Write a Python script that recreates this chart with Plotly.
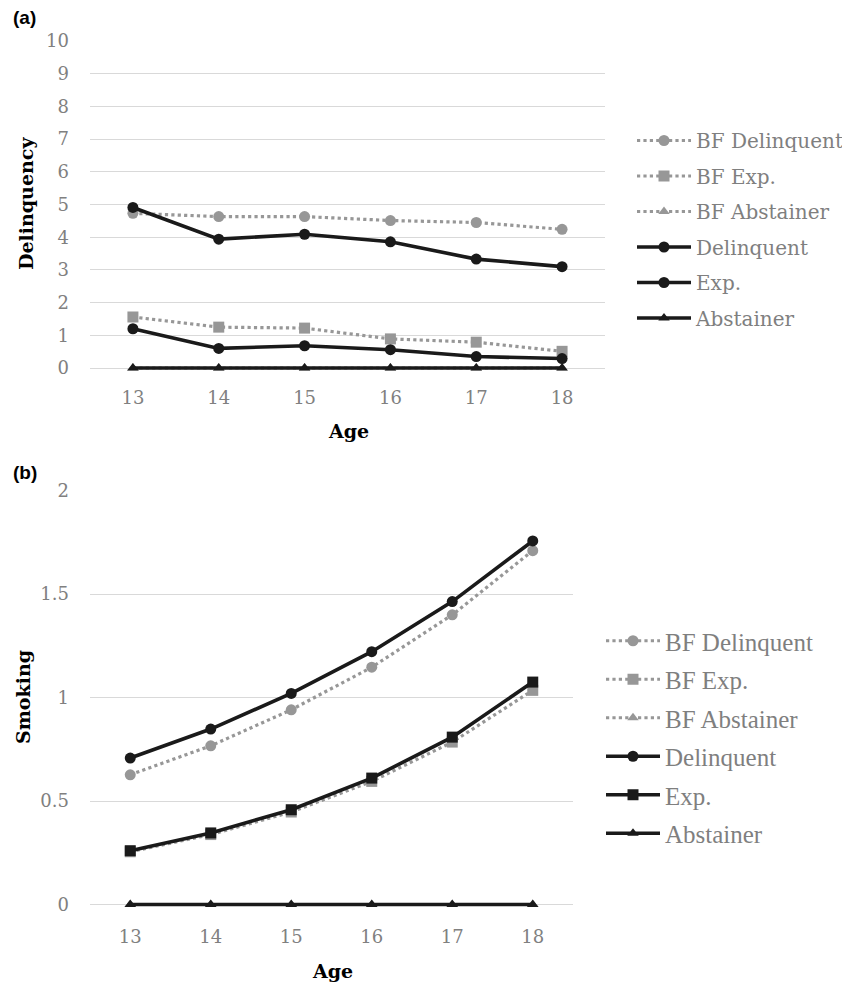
import plotly.graph_objects as go

ages = ["13", "14", "15", "16", "17", "18"]
series_names = ["BF Delinquent", "BF Exp.", "BF Abstainer", "Delinquent", "Exp.", "Abstainer"]

# Panel (a): Delinquency
a_bf_delinquent = [4.73, 4.63, 4.63, 4.51, 4.45, 4.24]
a_bf_exp = [1.56, 1.25, 1.22, 0.89, 0.79, 0.51]
a_bf_abstainer = [0, 0, 0, 0, 0, 0]
a_delinquent = [4.91, 3.94, 4.09, 3.86, 3.33, 3.10]
a_exp = [1.20, 0.60, 0.68, 0.56, 0.35, 0.29]
a_abstainer = [0, 0, 0, 0, 0, 0]

# Panel (b): Smoking
b_bf_delinquent = [0.627, 0.767, 0.941, 1.147, 1.40, 1.71]
b_bf_exp = [0.255, 0.338, 0.447, 0.595, 0.785, 1.035]
b_bf_abstainer = [0, 0, 0, 0, 0, 0]
b_delinquent = [0.708, 0.848, 1.02, 1.222, 1.464, 1.757]
b_exp = [0.26, 0.346, 0.458, 0.611, 0.809, 1.075]
b_abstainer = [0, 0, 0, 0, 0, 0]

a_ticks = [0, 1, 2, 3, 4, 5, 6, 7, 8, 9, 10]
b_ticks = [0, 0.5, 1, 1.5, 2]
b_ticktext = ["0", "0.5", "1", "1.5", "2"]

GRAY = "#979797"
BLACK = "#1a1a1a"
W, H = 850, 983
OX, OY = 8, 8  # page offset


def px(X):
    return (X - OX) / W


def py(Y):
    return 1 - (Y - OY) / H


fig = go.Figure()


def add_panel(vals, symbols, xa, ya, legend):
    for i, (name, v) in enumerate(zip(series_names, vals)):
        bf = i < 3
        color = GRAY if bf else BLACK
        sym = symbols[i]
        size = 11 if sym != "triangle-up" else 10
        fig.add_trace(go.Scatter(
            x=ages, y=v, name=name, mode="lines+markers",
            line=dict(color=color, dash="dot" if bf else "solid", width=3.2 if bf else 3.6),
            marker=dict(symbol=sym, size=size, color=color),
            xaxis=xa, yaxis=ya, legend=legend, legendgroup=legend + name,
            cliponaxis=False,
        ))


add_panel([a_bf_delinquent, a_bf_exp, a_bf_abstainer, a_delinquent, a_exp, a_abstainer],
          ["circle", "square", "triangle-up", "circle", "circle", "triangle-up"], "x", "y", "legend")
add_panel([b_bf_delinquent, b_bf_exp, b_bf_abstainer, b_delinquent, b_exp, b_abstainer],
          ["circle", "square", "triangle-up", "circle", "square", "triangle-up"], "x2", "y2", "legend2")

tickfont = dict(family="DejaVu Serif", size=18, color="#808080")
xcommon = dict(type="category", categoryorder="array", categoryarray=ages, range=[-0.5, 5.5],
               showgrid=False, showline=False, zeroline=False, ticks="", tickfont=tickfont)
ycommon = dict(showgrid=True, gridcolor="#d9d9d9", gridwidth=1, zeroline=False, showline=False,
               ticks="", tickfont=tickfont, ticklabelstandoff=20)

# small headroom below zero so the thick zero line is not clipped in half
a_pad = 2.5 / 32.7
b_pad = 2.5 / 207.2

fig.update_layout(
    width=W, height=H,
    margin=dict(l=0, r=0, t=0, b=0, autoexpand=False),
    paper_bgcolor="white", plot_bgcolor="white",
    xaxis=dict(domain=[px(90), px(605)], anchor="y", ticklabelstandoff=14, **xcommon),
    yaxis=dict(domain=[py(370.5), py(41)], anchor="x", range=[-a_pad, 10], tickvals=a_ticks, **ycommon),
    xaxis2=dict(domain=[px(90), px(573)], anchor="y2", ticklabelstandoff=17, **xcommon),
    yaxis2=dict(domain=[py(907), py(490.7)], anchor="x2", range=[-b_pad, 2], tickvals=b_ticks,
                ticktext=b_ticktext, **ycommon),
    legend=dict(x=px(632), y=py(121), xanchor="left", yanchor="top", itemwidth=54,
                font=dict(family="DejaVu Serif", size=20, color="#7f7f7f"),
                tracegroupgap=6.5, bgcolor="rgba(0,0,0,0)"),
    legend2=dict(x=px(601), y=py(618), xanchor="left", yanchor="top", itemwidth=54,
                 font=dict(family="Liberation Serif", size=25, color="#7f7f7f"),
                 tracegroupgap=3, bgcolor="rgba(0,0,0,0)"),
    showlegend=True,
)

annots = [
    dict(text="<b>(a)</b>", x=px(11), y=py(18), font=dict(family="Liberation Sans", size=19, color="black"),
         xanchor="left", yanchor="middle"),
    dict(text="<b>(b)</b>", x=px(11), y=py(473), font=dict(family="Liberation Sans", size=19, color="black"),
         xanchor="left", yanchor="middle"),
    dict(text="<b>Delinquency</b>", x=px(26), y=py(204), textangle=-90,
         font=dict(family="DejaVu Serif", size=19, color="black"), xanchor="center", yanchor="middle"),
    dict(text="<b>Age</b>", x=px(348), y=py(431), font=dict(family="DejaVu Serif", size=19, color="black"),
         xanchor="center", yanchor="middle"),
    dict(text="<b>Smoking</b>", x=px(23), y=py(697), textangle=-90,
         font=dict(family="DejaVu Serif", size=19, color="black"), xanchor="center", yanchor="middle"),
    dict(text="<b>Age</b>", x=px(332), y=py(971), font=dict(family="DejaVu Serif", size=19, color="black"),
         xanchor="center", yanchor="middle"),
]
for a in annots:
    fig.add_annotation(xref="paper", yref="paper", showarrow=False, **a)

fig.write_html("out.html")
